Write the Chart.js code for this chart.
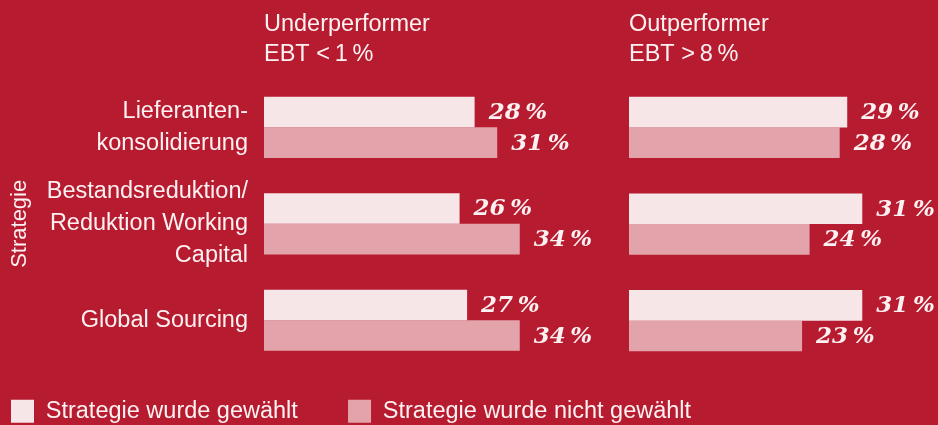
<!DOCTYPE html>
<html>
<head>
<meta charset="utf-8">
<script src="https://cdn.jsdelivr.net/npm/chart.js@4/dist/chart.umd.min.js"></script>
<style>
  body { margin: 0; }
  #wrap { position: relative; width: 938px; height: 425px; overflow: hidden; background: #b71b30; }
  canvas { position: absolute; top: 0; }
</style>
</head>
<body>
<div id="wrap">
  <canvas id="under" width="938" height="433" style="left:0"></canvas>
  <canvas id="out" width="309" height="433" style="left:629px"></canvas>
</div>
<script>
const categories = [['Lieferanten-', 'konsolidierung'], ['Bestandsreduktion/', 'Reduktion Working', 'Capital'], 'Global Sourcing'];
const seriesNames = ['Strategie wurde gewählt', 'Strategie wurde nicht gewählt'];
const underChosen = [28, 26, 27];
const underNotChosen = [31, 34, 34];
const outChosen = [29, 31, 31];
const outNotChosen = [28, 24, 23];
const panelTitles = [['Underperformer', 'EBT <\u20091\u2009%'], ['Outperformer', 'EBT >\u20098\u2009%']];

const textColor = '#fdf1f2';
const lightPink = '#f6e6e7';
const darkPink = '#e2a4aa';

Chart.defaults.font.family = '"Liberation Sans", Arial, sans-serif';
Chart.defaults.color = textColor;

// value labels at the end of each bar
const valueLabels = {
  id: 'valueLabels',
  afterDatasetsDraw(chart) {
    const ctx = chart.ctx;
    ctx.save();
    ctx.font = 'italic bold 23px "DejaVu Serif", serif';
    ctx.fillStyle = textColor;
    ctx.textAlign = 'left';
    ctx.textBaseline = 'middle';
    chart.data.datasets.forEach((ds, i) => {
      chart.getDatasetMeta(i).data.forEach((bar, j) => {
        ctx.fillText(ds.data[j] + '\u2009%', bar.x + 14, bar.y + 1);
      });
    });
    ctx.restore();
  }
};

function makeChart(id, title, chosen, notChosen, left) {
  return new Chart(document.getElementById(id), {
    type: 'bar',
    data: {
      labels: categories,
      datasets: [
        { label: seriesNames[0], data: chosen, backgroundColor: lightPink },
        { label: seriesNames[1], data: notChosen, backgroundColor: darkPink }
      ]
    },
    options: {
      indexAxis: 'y',
      responsive: false,
      animation: false,
      layout: { padding: { left: 0, right: left ? 0 : 8, top: 0, bottom: 0 } },
      datasets: { bar: { categoryPercentage: 0.634, barPercentage: 1 } },
      scales: {
        x: {
          min: 0,
          // left canvas spans the full width, so its scale runs further
          max: left ? 89.6 : 40,
          ticks: { display: false },
          grid: { display: false, drawTicks: false },
          border: { display: false },
          afterFit(s) { s.height = left ? 20 : 64; }
        },
        y: {
          display: left,
          ticks: { padding: 16, autoSkip: false, font: { size: 23.5, lineHeight: 1.36 }, color: textColor },
          grid: { display: false, drawTicks: false },
          border: { display: false },
          title: {
            display: true,
            text: 'Strategie',
            font: { size: 22, lineHeight: 1.2 },
            color: textColor,
            padding: { top: 7, bottom: 0 }
          },
          afterFit(s) { s.width = left ? 264 : 0; }
        }
      },
      plugins: {
        title: {
          display: true,
          text: title,
          align: 'start',
          fullSize: false,
          color: textColor,
          font: { size: 23.5, weight: 'normal', lineHeight: 1.3 },
          padding: { top: 9, bottom: 9 }
        },
        legend: {
          display: left,
          position: 'bottom',
          align: 'start',
          labels: {
            boxWidth: 23,
            boxHeight: 23,
            padding: 11,
            color: textColor,
            font: { size: 23.5 },
            generateLabels(chart) {
              const items = Chart.defaults.plugins.legend.labels.generateLabels(chart);
              items[0].text += '      ';
              return items;
            }
          }
        },
        tooltip: { enabled: false }
      }
    },
    plugins: [valueLabels]
  });
}

makeChart('under', panelTitles[0], underChosen, underNotChosen, true);
makeChart('out', panelTitles[1], outChosen, outNotChosen, false);
</script>
</body>
</html>
